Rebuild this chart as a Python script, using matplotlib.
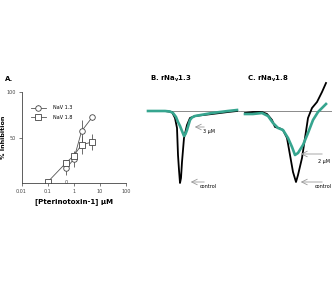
import matplotlib
matplotlib.use("Agg")
import matplotlib.pyplot as plt
import numpy as np

# panel A: dose-response
conc_13 = [0.5, 1, 2, 5]
inh_13 = [16, 26, 57, 72]
err_13 = [7, 8, 12, 3]

conc_18 = [0.1, 0.5, 1, 2, 5]
inh_18 = [1, 22, 30, 42, 45]
err_18 = [1, 3, 5, 10, 9]

# panel B: rNav1.3 currents (ms, nA)
tB_ctrl = [0, 1.7, 2.4, 2.7, 2.9, 3.0, 3.1, 3.2, 3.3, 3.4, 3.6, 3.9, 4.2, 4.7, 6.4, 8.0, 8.9]
iB_ctrl = [0, 0, -0.1, -0.7, -1.7, -4.4, -5.9, -7.2, -6.7, -5.1, -2.7, -1.4, -0.7, -0.5, -0.3, -0.1, 0]
tB_tox = [0, 1.7, 2.2, 2.5, 2.8, 3.0, 3.2, 3.4, 3.6, 3.75, 3.9, 4.05, 4.2, 4.4, 4.7, 6.4, 8.0, 8.9]
iB_tox = [0, 0, -0.05, -0.2, -0.6, -1.1, -1.5, -2.0, -2.5, -2.3, -1.9, -1.4, -0.9, -0.65, -0.5, -0.2, 0, 0.1]

# panel C: rNav1.8 currents
tC_ctrl = [0, 0.8, 1.7, 2.2, 2.7, 3.0, 3.4, 3.8, 4.2, 4.5, 4.8, 5.1, 5.3, 5.7, 6.0, 6.3, 6.7, 7.2, 7.7, 8.1]
iC_ctrl = [-0.2, -0.1, -0.1, -0.3, -0.9, -1.6, -1.7, -1.9, -2.7, -4.4, -6.1, -7.1, -6.4, -4.7, -2.7, -0.7, 0.3, 0.9, 1.9, 2.8]
tC_tox = [0, 0.8, 1.7, 2.3, 2.8, 3.3, 3.8, 4.3, 4.7, 5.0, 5.3, 5.8, 6.3, 6.8, 7.3, 8.1]
iC_tox = [-0.3, -0.3, -0.2, -0.5, -1.2, -1.7, -1.9, -2.7, -3.6, -4.4, -4.2, -3.4, -2.2, -0.9, -0.1, 0.7]

green = "#36a58f"
W, H = 332, 284

fig = plt.figure(figsize=(3.32, 2.84), dpi=100)

def px_axes(x0, y0, x1, y1):
    return fig.add_axes([x0 / W, 1 - y1 / H, (x1 - x0) / W, (y1 - y0) / H])

# ---- A ----
ax = px_axes(21.5, 92, 126, 183)
ax.errorbar(conc_13, inh_13, yerr=err_13, color="#555555", lw=0.6, marker="o", ms=4,
            mfc="white", mec="#444444", mew=0.6, elinewidth=0.6, capsize=0, label="NaV 1.3")
ax.errorbar(conc_18, inh_18, yerr=err_18, color="#555555", lw=0.6, marker="s", ms=4,
            mfc="white", mec="#444444", mew=0.6, elinewidth=0.6, capsize=0, label="NaV 1.8")
ax.set_xscale("log")
ax.set_xlim(0.01, 100)
ax.set_ylim(0, 100)
ax.set_xticks([0.01, 0.1, 1, 10, 100])
ax.set_xticklabels(["0.01", "0.1", "1", "10", "100"])
ax.xaxis.set_minor_locator(matplotlib.ticker.NullLocator())
ax.set_yticks([50, 100])
for s in ["top", "right"]:
    ax.spines[s].set_visible(False)
for s in ["left", "bottom"]:
    ax.spines[s].set_linewidth(0.6)
    ax.spines[s].set_color("#444444")
ax.tick_params(labelsize=3.5, length=2, width=0.5, pad=2, colors="#444444")
ax.set_xlabel("[Pterinotoxin-1] µM", fontsize=5, fontweight="bold", labelpad=3)
ax.set_ylabel("% Inhibition", fontsize=4.6, fontweight="bold")
ax.yaxis.set_label_coords(-0.15, 0.5)
ax.text(0.5, 0, "0", fontsize=3.5, ha="center", va="center", color="#444444")
ax.legend(loc="upper left", bbox_to_anchor=(0.05, 0.9), fontsize=3.5, frameon=False,
          handlelength=3, labelspacing=0.9, handletextpad=1.6)
fig.text(5 / W, 1 - 79 / H, "A.", fontsize=5, fontweight="bold", va="center")

# ---- B ----
axB = px_axes(145, 75, 240, 195)
axB.axhline(0, xmin=0.03, color="#777777", lw=0.6)
axB.plot(tB_ctrl, iB_ctrl, color="black", lw=1.3)
axB.plot(tB_tox, iB_tox, color=green, lw=1.9)
axB.set_xlim(-0.3, 9.2)
axB.set_ylim(-8.4, 3.6)
axB.axis("off")
arr = dict(arrowstyle="->", color="#999999", lw=0.6)
axB.annotate("", xy=(4.4, -1.6), xytext=(5.9, -1.6), arrowprops=arr)
axB.text(5.5, -2.1, "3 µM", fontsize=3.5, va="center")
axB.annotate("", xy=(4.0, -7.1), xytext=(5.9, -7.1), arrowprops=arr)
axB.text(5.2, -7.6, "control", fontsize=3.5, va="center")
fig.text(150 / W, 1 - 79 / H, r"B. rNa$_\mathregular{v}$1.3", fontsize=5, fontweight="bold", va="center")

# ---- C ----
axC = px_axes(240, 75, 332, 195)
axC.axhline(0, color="#777777", lw=0.6)
axC.plot(tC_ctrl, iC_ctrl, color="black", lw=1.3)
axC.plot(tC_tox, iC_tox, color=green, lw=1.9)
axC.set_xlim(-0.5, 8.7)
axC.set_ylim(-8.4, 3.6)
axC.axis("off")
axC.annotate("", xy=(5.3, -4.3), xytext=(8.0, -4.3), arrowprops=arr)
axC.text(7.3, -5.0, "2 µM", fontsize=3.5, va="center")
axC.annotate("", xy=(5.3, -7.1), xytext=(8.0, -7.1), arrowprops=arr)
axC.text(7.0, -7.6, "control", fontsize=3.5, va="center")
fig.text(247 / W, 1 - 79 / H, r"C. rNa$_\mathregular{v}$1.8", fontsize=5, fontweight="bold", va="center")

fig.savefig("out.png", dpi=100)
